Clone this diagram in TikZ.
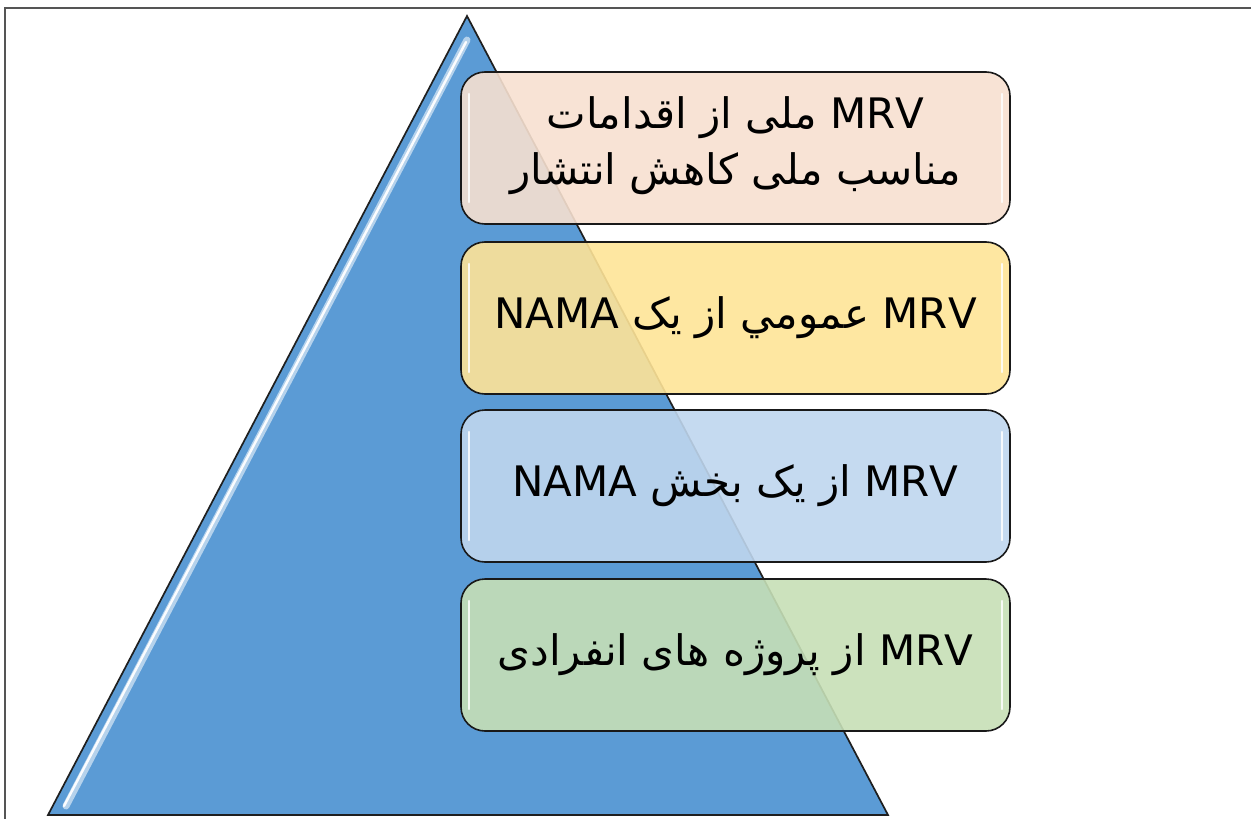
\documentclass[tikz,border=0pt]{standalone}
\usepackage{fontspec}
\TeXXeTstate=1
\newfontfamily\arabicfont[Script=Arabic]{DejaVu Sans}
\definecolor{triblue}{HTML}{5B9BD5}
\definecolor{triedge}{HTML}{1F1F1F}
\definecolor{peach}{HTML}{F7E0D0}
\definecolor{sand}{HTML}{FEE497}
\definecolor{sky}{HTML}{BFD6EE}
\definecolor{sage}{HTML}{C6DFB6}
\definecolor{framegray}{HTML}{555555}
\tikzset{
  level/.style={draw=black!90, line width=1.6pt, rounded corners=24pt, fill opacity=0.9},
  label/.style={font=\arabicfont\fontsize{42}{56}\selectfont, align=center, text=black},
  gloss/.style={white, line width=2.2pt, opacity=0.85, line cap=round}
}
\begin{document}
\begin{tikzpicture}[x=1pt,y=-1pt]
\useasboundingbox (0,0) rectangle (1251,819);
% frame
\draw[framegray, line width=1.6pt] (5,819) -- (5,8) -- (1251,8);
% triangle
\coordinate (apex) at (467,16);
\coordinate (bl) at (48,815);
\coordinate (br) at (888,815);
\fill[triblue] (apex) -- (br) -- (bl) -- cycle;
\draw[color=white!55!triblue, line width=7pt, line cap=round] (467,40) -- (66,806);
\draw[white, line width=2.4pt, line cap=round, opacity=0.95] (466,42) -- (64,806);
\draw[triedge, line width=1.7pt, line join=miter] (apex) -- (br) -- (bl) -- cycle;
% boxes
\foreach \n/\c/\t/\b in {one/peach/72/224, two/sand/242/394, three/sky/410/562, four/sage/579/731}{
  \draw[level, fill=\c] (461,\t) rectangle (1010,\b);
  \draw[gloss] (469,\t+22) -- (469,\b-22);
  \draw[gloss] (1002,\t+22) -- (1002,\b-22);
  \coordinate (\n) at (735.5,{(\t+\b)/2});
}
\node[label] (t1) at ([yshift=2pt]one) {\beginR\beginL MRV\endL{} ملی از  اقدامات\endR\\\beginR مناسب ملی کاهش انتشار\endR};
\node[label] (t2) at (two) {\beginR\beginL MRV\endL{} عمومي از یک \beginL NAMA\endL\endR};
\node[label] (t3) at (three) {\beginR\beginL MRV\endL{} از یک بخش \beginL NAMA\endL\endR};
\node[label] (t4) at (four) {\beginR\beginL MRV\endL{} از پروژه های انفرادی\endR};
\end{tikzpicture}
\end{document}
